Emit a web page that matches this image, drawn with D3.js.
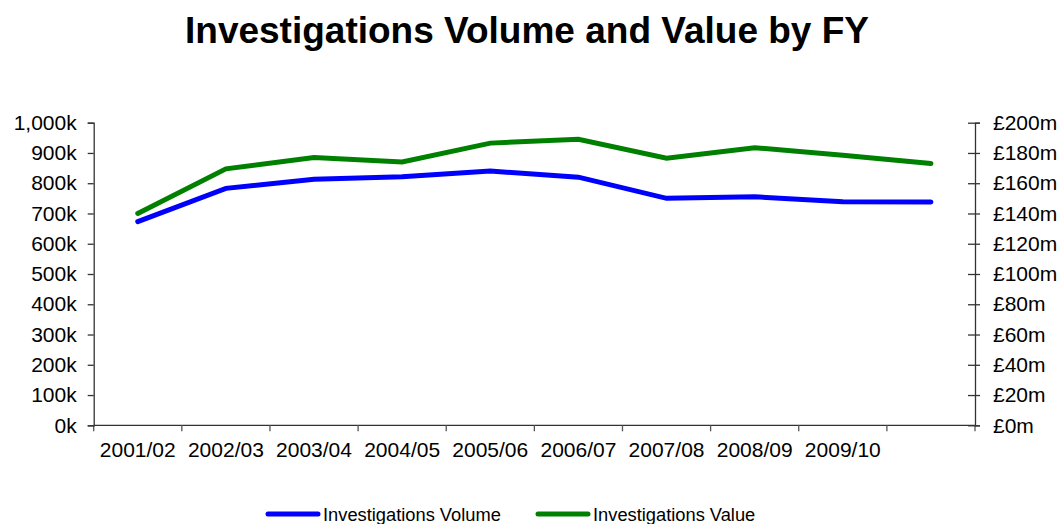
<!DOCTYPE html>
<html>
<head>
<meta charset="utf-8">
<script src="https://cdn.jsdelivr.net/npm/d3@7"></script>
<style>
  body { margin: 0; background: #fff; }
  text { font-family: "Liberation Sans", Arial, sans-serif; fill: #000; }
</style>
</head>
<body>
<div class="chart"></div>
<script>
const years = ['2001/02','2002/03','2003/04','2004/05','2005/06','2006/07','2007/08','2008/09','2009/10','2010/11'];
const yearLabels = ['2001/02','2002/03','2003/04','2004/05','2005/06','2006/07','2007/08','2008/09','2009/10',''];
const volume = [673, 783, 813, 821, 840, 820, 750, 755, 739, 738];   // thousands
const value = [140, 169.5, 177, 174, 186.5, 189, 176.5, 183.5, 178.5, 173]; // £m
const leftTicks = [0,100,200,300,400,500,600,700,800,900,1000];
const rightTicks = [0,20,40,60,80,100,120,140,160,180,200];

const W = 1061, H = 524;
const margin = {top: 122.7, right: 86, bottom: 98.7, left: 93.7},
    width = W - margin.left - margin.right,
    height = H - margin.top - margin.bottom;

const svg = d3.select('.chart')
  .append('svg')
    .attr('width', W)
    .attr('height', H)
    .attr('display','block');

svg.append('text')
  .attr('x', 527)
  .attr('y', 43)
  .attr('text-anchor','middle')
  .style('font-weight','bold')
  .style('font-size','37px')
  .text('Investigations Volume and Value by FY');

const g = svg.append('g')
  .attr('transform','translate('+margin.left+','+margin.top+')');

const xScale = d3.scaleBand()
  .domain(years)
  .range([0,width]);
const yLeft = d3.scaleLinear()
  .domain([0,1000])
  .range([height,0]);
const yRight = d3.scaleLinear()
  .domain([0,200])
  .range([height,0]);

// x axis: ticks at band edges, labels at band centres
const xAxis = g.append('g')
  .attr('transform','translate(0,'+height+')');
xAxis.append('line')
  .attr('x1',0).attr('x2',width)
  .attr('stroke','#333').attr('stroke-width',1.3);
xAxis.selectAll('.edge')
  .data(years.concat(['end']))
  .enter()
  .append('line')
    .attr('x1',(d,i)=>i*xScale.step())
    .attr('x2',(d,i)=>i*xScale.step())
    .attr('y1',0).attr('y2',6)
    .attr('stroke','#555').attr('stroke-width',1.3);
xAxis.selectAll('.lbl')
  .data(years)
  .enter()
  .append('text')
    .attr('x',d=>xScale(d)+xScale.bandwidth()/2)
    .attr('y',32)
    .attr('text-anchor','middle')
    .style('font-size','21px')
    .text((d,i)=>yearLabels[i]);

const leftAxis = g.append('g')
  .call(d3.axisLeft(yLeft).tickValues(leftTicks).tickSize(6).tickPadding(11)
    .tickFormat(d=>d3.format(',')(d)+'k'));
leftAxis.select('.domain').attr('stroke','#333').attr('stroke-width',1.3);
leftAxis.selectAll('.tick line').attr('stroke','#333').attr('stroke-width',1.3);
leftAxis.selectAll('text').style('font-size','21px').attr('fill','#000');

const rightAxis = g.append('g')
  .attr('transform','translate('+width+',0)')
  .call(d3.axisRight(yRight).tickValues(rightTicks).tickSize(5).tickPadding(13)
    .tickFormat(d=>'£'+d+'m'));
rightAxis.select('.domain').attr('stroke','#333').attr('stroke-width',1.3);
rightAxis.selectAll('.tick line').attr('x1',-7).attr('stroke','#333').attr('stroke-width',1.3);
rightAxis.selectAll('text').style('font-size','21px').attr('fill','#000');

const cx = d=>xScale(d)+xScale.bandwidth()/2;

g.append('path')
  .datum(volume)
  .attr('fill','none')
  .attr('stroke','#0000ff')
  .attr('stroke-width',5)
  .attr('stroke-linecap','round')
  .attr('d', d3.line()
    .x((d,i)=>cx(years[i]))
    .y(d=>yLeft(d)));

g.append('path')
  .datum(value)
  .attr('fill','none')
  .attr('stroke','#008000')
  .attr('stroke-width',5)
  .attr('stroke-linecap','round')
  .attr('d', d3.line()
    .x((d,i)=>cx(years[i]))
    .y(d=>yRight(d)));

// legend
const legendItems = [
  {name:'Investigations Volume', color:'#0000ff', x:268},
  {name:'Investigations Value', color:'#008000', x:538}
];
const legend = svg.append('g');
legendItems.forEach(item=>{
  legend.append('line')
    .attr('x1',item.x).attr('x2',item.x+50)
    .attr('y1',514).attr('y2',514)
    .attr('stroke',item.color).attr('stroke-width',5)
    .attr('stroke-linecap','round');
  legend.append('text')
    .attr('x',item.x+55)
    .attr('y',521)
    .style('font-size','18.3px')
    .text(item.name);
});
</script>
</body>
</html>
